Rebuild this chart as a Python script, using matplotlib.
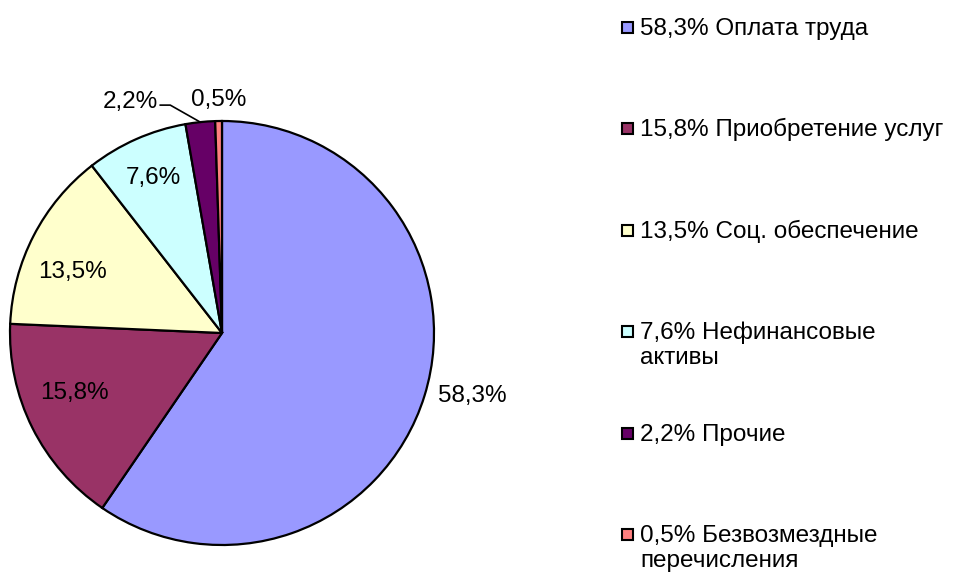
import numpy as np
import matplotlib
matplotlib.use("Agg")
import matplotlib.pyplot as plt
from matplotlib.patches import Rectangle

# data
values = [58.3, 15.8, 13.5, 7.6, 2.2, 0.5]
pct_labels = ["58,3%", "15,8%", "13,5%", "7,6%", "2,2%", "0,5%"]
names = ["Оплата труда", "Приобретение услуг", "Соц. обеспечение",
         "Нефинансовые\nактивы", "Прочие", "Безвозмездные\nперечисления"]
colors = ["#9999FF", "#993366", "#FFFFCC", "#CCFFFF", "#660066", "#FF8080"]

plt.rcParams['font.family'] = ['Liberation Sans', 'DejaVu Sans']
FS = 17.5

W, H = 955, 574
fig = plt.figure(figsize=(W / 100, H / 100), dpi=100)
ax = fig.add_axes([0, 0, 1, 1])

cx, cy, R = 222, 241, 212
wedges, _ = ax.pie(values, colors=colors, startangle=90, counterclock=False,
                   center=(cx, cy), radius=R,
                   wedgeprops=dict(edgecolor='black', linewidth=1.6))
ax.set_xlim(0, W)
ax.set_ylim(0, H)
ax.set_aspect('equal')
ax.axis('off')

# label distance (radii) and angle nudge (deg) per slice; None = leader label
dist = [1.22, 0.75, 0.76, 0.8, None, 1.1]
nudge = [3, -4.5, 5, 0, 0, 0]
for w, d, dn, lab in zip(wedges, dist, nudge, pct_labels):
    m = np.deg2rad((w.theta1 + w.theta2) / 2 + dn)
    if d is not None:
        ax.text(cx + d * R * np.cos(m), cy + d * R * np.sin(m), lab,
                fontsize=FS, ha='center', va='center')

# 2,2% label with leader line
w = wedges[4]
m = np.deg2rad((w.theta1 + w.theta2) / 2)
px, py = cx + R * np.cos(m), cy + R * np.sin(m)
ex, ey = px - 30, py + 17
ax.plot([px, ex, ex - 10], [py, ey, ey], color='black', lw=1.2)
ax.text(ex - 12, ey + 3, pct_labels[4], fontsize=FS, ha='right', va='center')

# legend
for i, (lab, name, c) in enumerate(zip(pct_labels, names, colors)):
    by = H - 35 - i * 101.4
    ax.add_patch(Rectangle((622, by + 2), 11, 11, facecolor=c,
                           edgecolor='black', lw=1.5))
    lines = (lab + " " + name).split("\n")
    for j, line in enumerate(lines):
        ax.text(640, by - j * 25, line, fontsize=FS, ha='left', va='baseline')

fig.savefig("out.png", dpi=100)
